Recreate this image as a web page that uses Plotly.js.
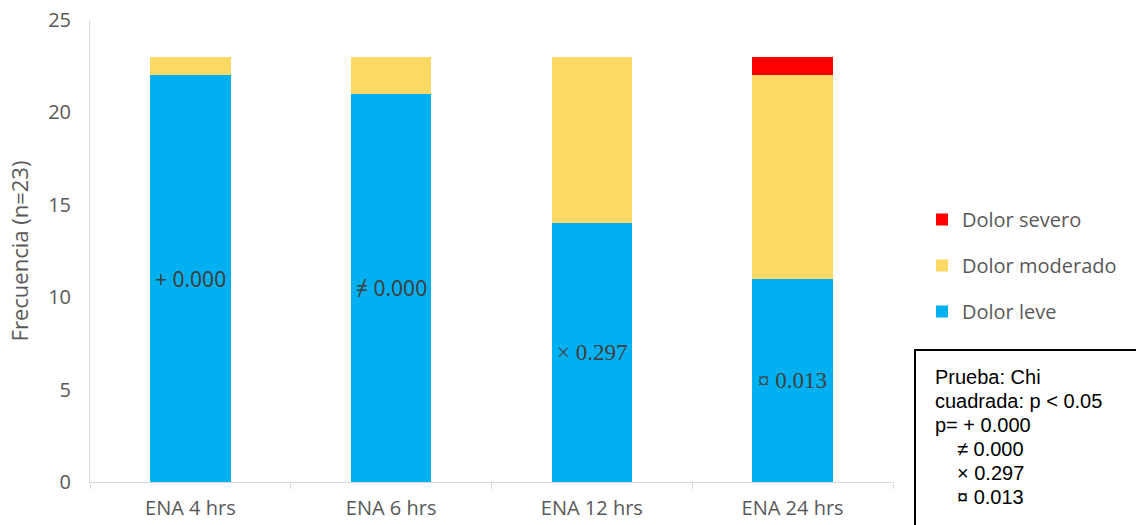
<!DOCTYPE html>
<html><head><meta charset="utf-8">
<script src="https://cdn.plot.ly/plotly-3.0.1.min.js"></script>
<style>body{margin:0;background:#fff}#c{width:1136px;height:525px}</style>
</head><body><div id="c"></div>
<script>
const categories = ["ENA 4 hrs", "ENA 6 hrs", "ENA 12 hrs", "ENA 24 hrs"];
const leve = [22, 21, 14, 11];
const moderado = [1, 2, 9, 11];
const severo = [0, 0, 0, 1];
const pLabels = ["+ 0.000", "≠ 0.000", "× 0.297", "¤ 0.013"];
const labelFonts = ["Noto Sans", "Noto Sans", "Liberation Serif", "Liberation Serif"];
const noteLines = ["Prueba: Chi", "cuadrada: p < 0.05", "p= + 0.000", "≠ 0.000", "× 0.297", "¤ 0.013"];

const W = 1136, H = 525, L = 90, R = 243, T = 20, B = 43;
const pw = W - L - R, ph = H - T - B;
const px = x => (x - L) / pw;
const py = y => (H - B - y) / ph;

const traces = [
  {name: "Dolor leve", y: leve, color: "#00B0F0", rank: 3},
  {name: "Dolor moderado", y: moderado, color: "#FFD966", rank: 2},
  {name: "Dolor severo", y: severo, color: "#FF0000", rank: 1}
].map((s, i) => ({
  type: "bar", x: categories, y: s.y, name: s.name, legendgroup: "g" + i, legendrank: s.rank,
  marker: {color: s.color, line: {width: 0}},
  textposition: "none", hoverinfo: "skip"
}));

const barLabels = categories.map((c, i) => ({
  xref: "x", yref: "y", x: c, y: leve[i] / 2, showarrow: false, text: pLabels[i],
  xanchor: "center", yanchor: "middle",
  font: {family: labelFonts[i], size: i < 2 ? 21 : 23, color: "#404040"}
}));

const noteAnn = noteLines.map((t, i) => ({
  xref: "paper", yref: "paper", x: px(i >= 3 ? 955 : 933), y: py(377 + 24 * i),
  xanchor: "left", yanchor: "middle", showarrow: false, text: t,
  font: {family: "Liberation Sans, Arial", size: 20, color: "#000"}
}));

const layout = {
  width: W, height: H,
  margin: {l: L, r: R, t: T, b: B},
  barmode: "stack", bargap: 0.6,
  plot_bgcolor: "#fff", paper_bgcolor: "#fff",
  font: {family: "Open Sans", color: "#595959"},
  xaxis: {showline: true, linecolor: "#d9d9d9", linewidth: 1, ticks: "outside", tickson: "boundaries",
          ticklen: 6, tickcolor: "#d9d9d9", ticklabelstandoff: 8, tickfont: {size: 20, color: "#595959"}, showgrid: false},
  yaxis: {range: [0, 25], dtick: 5, showline: true, linecolor: "#d9d9d9", linewidth: 1, showgrid: false,
          zeroline: false, ticks: "", ticklabelstandoff: 14, tickfont: {size: 20, color: "#595959"},
          title: {text: "Frecuencia (n=23)", font: {size: 22, color: "#595959"}, standoff: 13}},
  legend: {x: px(922), y: py(200), xanchor: "left", yanchor: "top", traceorder: "grouped",
           tracegroupgap: 17, font: {size: 20, color: "#595959"}, itemwidth: 30},
  shapes: [{type: "rect", xref: "paper", yref: "paper", x0: px(915), x1: px(1145), y0: py(350), y1: py(535),
            line: {color: "#000", width: 2}, fillcolor: "rgba(0,0,0,0)"}],
  annotations: barLabels.concat(noteAnn)
};
Plotly.newPlot("c", traces, layout, {displayModeBar: false, staticPlot: true});
</script></body></html>
